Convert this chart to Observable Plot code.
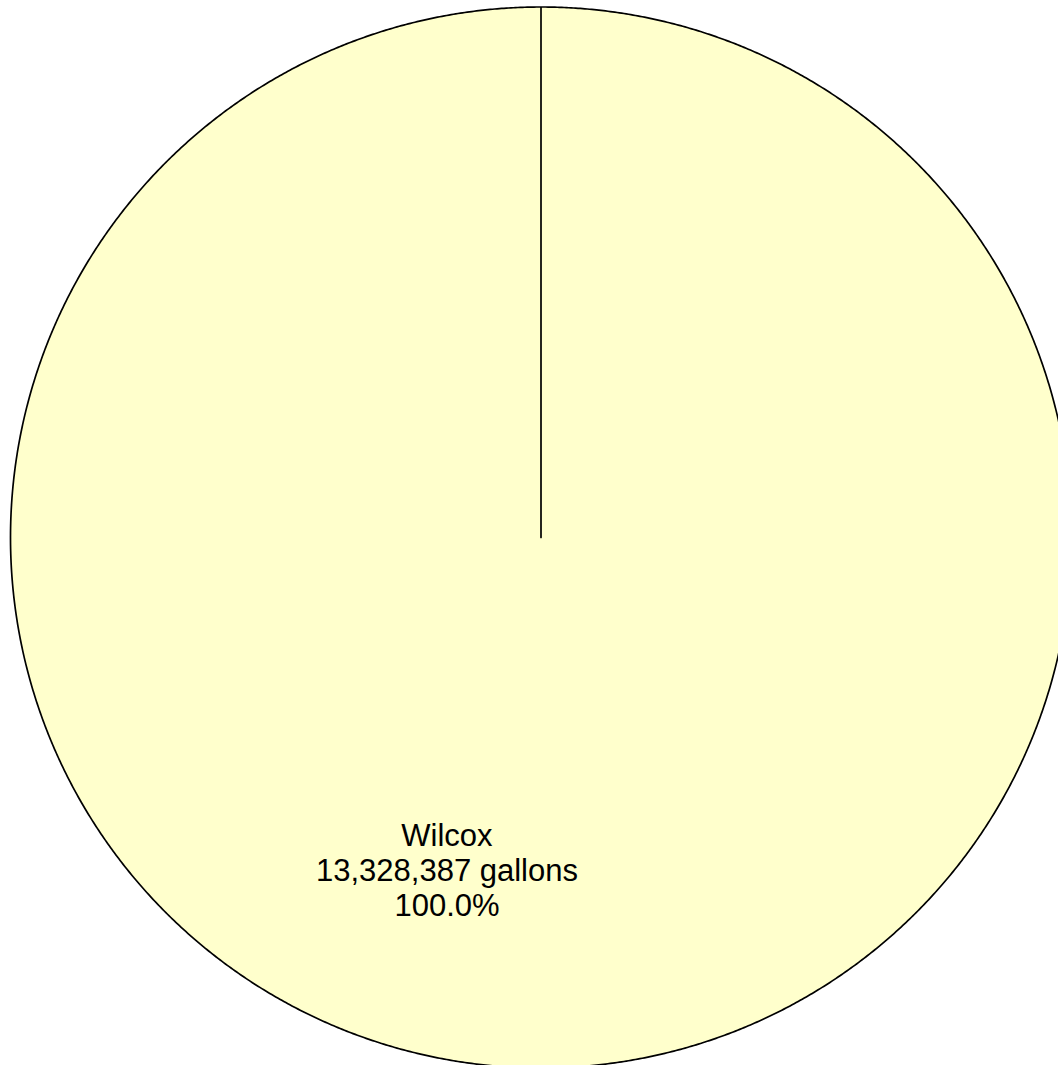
<!DOCTYPE html>
<html>
<head>
<meta charset="utf-8">
<script src="https://cdn.jsdelivr.net/npm/d3@7"></script>
<script src="https://cdn.jsdelivr.net/npm/@observablehq/plot@0.6"></script>
<style>
  html, body { margin: 0; padding: 0; background: #ffffff; overflow: hidden; }
  #chart svg { display: block; overflow: visible; }
</style>
</head>
<body>
<div id="chart"></div>
<script>
// Data
const categories = ["Wilcox"];
const values = [13328387];
const units = "gallons";
const colors = ["#FFFFCC"];

const total = d3.sum(values);
const pie = d3.pie().sort(null).value(d => d)(values);

// Build slice outlines from pie angles (unit radius; angle 0 at top, clockwise)
const STEP = Math.PI / 720;
const slicePoints = [];
pie.forEach((p, i) => {
  const pts = [{x: 0, y: 0}];
  const n = Math.max(2, Math.ceil((p.endAngle - p.startAngle) / STEP));
  for (let k = 0; k <= n; k++) {
    const a = p.startAngle + (p.endAngle - p.startAngle) * k / n;
    pts.push({x: Math.sin(a), y: -Math.cos(a)});
  }
  pts.push({x: 0, y: 0});
  pts.forEach(q => slicePoints.push({...q, slice: categories[i]}));
});

// Label placement (as drawn in the reference)
const labelAngle = Math.PI * 195.8 / 180;
const labelRadius = 0.651;
const labels = pie.map((p, i) => ({
  x: labelRadius * Math.sin(labelAngle),
  y: -labelRadius * Math.cos(labelAngle),
  text: `${categories[i]}\n${d3.format(",")(values[i])} ${units}\n${d3.format(".1%")(values[i] / total)}`
}));

const chart = Plot.plot({
  width: 1058,
  height: 1065,
  margin: 0,
  style: {background: "transparent", overflow: "visible"},
  x: {domain: [-1, 1], range: [10, 1071], axis: null},
  y: {domain: [-1, 1], range: [6.5, 1067.5], axis: null},
  color: {domain: categories, range: colors},
  marks: [
    Plot.line(slicePoints, {
      x: "x", y: "y", z: "slice",
      fill: "slice",
      stroke: "#000000",
      strokeWidth: 1.7,
      curve: "linear"
    }),
    Plot.text(labels, {
      x: "x", y: "y", text: "text",
      fontSize: 31,
      lineHeight: 1.13,
      fontFamily: "Liberation Sans, Arial, sans-serif",
      fill: "#000000",
      textAnchor: "middle"
    })
  ]
});
document.getElementById("chart").appendChild(chart);
</script>
</body>
</html>
